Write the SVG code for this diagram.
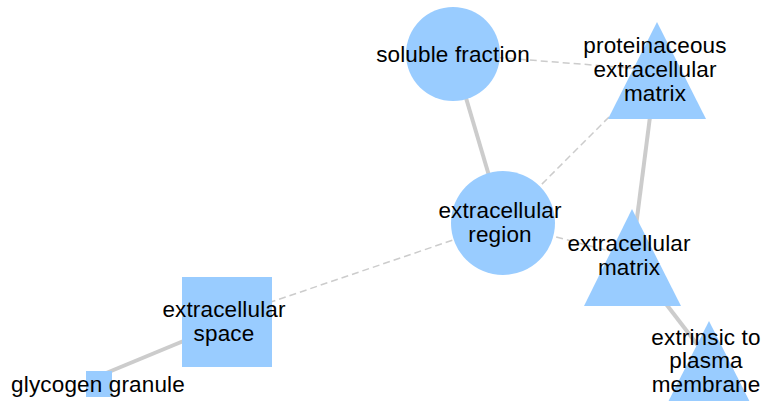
<svg xmlns="http://www.w3.org/2000/svg" width="766" height="401" viewBox="0 0 766 401">
<style>
.bg{fill:#ffffff}
.node{fill:#99ccff;stroke:none}
.lbl{font-family:"Liberation Sans",Arial,sans-serif;font-size:22.5px;letter-spacing:0.15px;fill:#000;text-anchor:middle}
.solid{stroke:#cccccc;stroke-width:4;fill:none}
.dash{stroke:#cccccc;stroke-width:1.5;stroke-dasharray:7,4;fill:none}
</style>
<rect class="bg" x="0" y="0" width="766" height="401"/>
<g id="edges">
<line class="solid" x1="453" y1="54" x2="503" y2="223"/>
<line class="dash" x1="453" y1="54" x2="656" y2="70"/>
<line class="dash" x1="503" y1="223" x2="656" y2="70"/>
<line class="solid" x1="656" y1="70" x2="632" y2="257"/>
<line class="dash" x1="503" y1="223" x2="632" y2="257"/>
<line class="solid" x1="630" y1="257" x2="716" y2="369"/>
<line class="dash" x1="227" y1="317" x2="503" y2="223"/>
<line class="solid" x1="99" y1="376" x2="227" y2="323"/>
</g>
<g id="soluble-fraction">
<circle class="node" cx="453" cy="54" r="47"/>
<text class="lbl" x="453" y="62">soluble fraction</text>
</g>
<g id="proteinaceous-extracellular-matrix">
<polygon class="node" points="657,22 608,119 706,119"/>
<text class="lbl" x="655" y="53">proteinaceous</text>
<text class="lbl" x="655" y="77">extracellular</text>
<text class="lbl" x="655" y="101">matrix</text>
</g>
<g id="extracellular-region">
<circle class="node" cx="503" cy="223" r="52"/>
<text class="lbl" x="500" y="218">extracellular</text>
<text class="lbl" x="500" y="242">region</text>
</g>
<g id="extracellular-matrix">
<polygon class="node" points="632,209 584,306 681,306"/>
<text class="lbl" x="629" y="251">extracellular</text>
<text class="lbl" x="629" y="275">matrix</text>
</g>
<g id="extrinsic-to-plasma-membrane">
<polygon class="node" points="709,321 660,418 758,418"/>
<text class="lbl" x="706" y="345">extrinsic to</text>
<text class="lbl" x="706" y="368">plasma</text>
<text class="lbl" x="706" y="392">membrane</text>
</g>
<g id="extracellular-space">
<rect class="node" x="182" y="277" width="90" height="90"/>
<text class="lbl" x="224" y="317">extracellular</text>
<text class="lbl" x="224" y="341">space</text>
</g>
<g id="glycogen-granule">
<rect class="node" x="86" y="371" width="26" height="26"/>
<text class="lbl" x="98" y="392">glycogen granule</text>
</g>
</svg>
